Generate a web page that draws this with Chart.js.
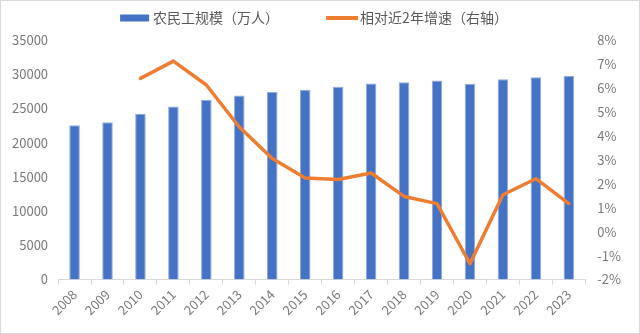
<!DOCTYPE html>
<html>
<head>
<meta charset="utf-8">
<script src="https://cdn.jsdelivr.net/npm/chart.js@4"></script>
<style>
  html, body { margin: 0; padding: 0; background: #fff; }
  #wrap { width: 640px; height: 334px; }
</style>
</head>
<body>
<div id="wrap"><canvas id="myChart"></canvas></div>
<script>
// Migrant worker totals (10k people) and the two-year growth rate (%)

const years = ['2008', '2009', '2010', '2011', '2012', '2013', '2014', '2015',
               '2016', '2017', '2018', '2019', '2020', '2021', '2022', '2023'];

const workers = [22542, 22978, 24223, 25278, 26261, 26894, 27395, 27747,
                 28171, 28652, 28836, 29077, 28560, 29251, 29562, 29753];

const growth = [null, null, 6.40, 7.12, 6.12, 4.37, 3.05, 2.24,
                2.18, 2.45, 1.47, 1.17, -1.34, 1.54, 2.21, 1.17];

const workersLabel = '农民工规模（万人）';
const growthLabel = '相对近2年增速（右轴）';

const tickColor = '#7a7a7a';
const tickFont = { family: '"Noto Sans CJK SC", sans-serif', size: 13 };

// legend row drawn above the plot
const topLegend = {
    id: 'topLegend',
    afterDraw(chart) {
        const ctx = chart.ctx;
        ctx.save();
        ctx.font = '14px "Noto Sans CJK SC", sans-serif';
        ctx.textBaseline = 'middle';
        const items = chart.data.datasets.map(ds => {
            const line = ds.type === 'line';
            return {
                text: ds.label,
                color: line ? ds.borderColor : ds.backgroundColor,
                line: line,
                swatch: line ? 32 : 29,
                gap: line ? 2 : 4
            };
        });
        const spacing = 47;
        let total = 0;
        items.forEach((it, i) => {
            it.w = it.swatch + it.gap + ctx.measureText(it.text).width;
            total += it.w + (i ? spacing : 0);
        });
        let x = (chart.width - total) / 2 - 6;
        const y = 18;
        items.forEach(it => {
            if (it.line) {
                ctx.strokeStyle = it.color;
                ctx.lineWidth = 4;
                ctx.beginPath();
                ctx.moveTo(x, y);
                ctx.lineTo(x + it.swatch, y);
                ctx.stroke();
            } else {
                ctx.fillStyle = it.color;
                ctx.fillRect(x, y - 3.5, it.swatch, 7);
            }
            ctx.fillStyle = '#595959';
            ctx.fillText(it.text, x + it.swatch + it.gap, y);
            x += it.w + spacing;
        });
        // thin frame round the whole chart
        ctx.strokeStyle = '#d9d9d9';
        ctx.lineWidth = 1;
        ctx.strokeRect(0.5, 0.5, chart.width - 1, chart.height - 1);
        ctx.restore();
    }
};

const config = {
    type: 'bar',
    data: {
        labels: years,
        datasets: [{
            type: 'bar',
            label: workersLabel,
            data: workers,
            yAxisID: 'y',
            backgroundColor: '#4472C4',
            borderColor: '#8EA9DB',
            borderWidth: 1,
            barPercentage: 0.32,
            categoryPercentage: 1,
            order: 2
        }, {
            type: 'line',
            label: growthLabel,
            data: growth,
            yAxisID: 'y1',
            borderColor: '#ED7D31',
            backgroundColor: '#ED7D31',
            borderWidth: 3.5,
            borderCapStyle: 'round',
            borderJoinStyle: 'round',
            pointRadius: 0,
            tension: 0,
            order: 1
        }]
    },
    options: {
        responsive: true,
        maintainAspectRatio: false,
        animation: false,
        layout: {
            padding: { top: 40, left: 2, right: 7, bottom: 14 }
        },
        plugins: {
            legend: { display: false },
            tooltip: { enabled: false }
        },
        scales: {
            x: {
                offset: true,
                grid: {
                    display: true,
                    offset: true,
                    drawOnChartArea: false,
                    drawTicks: true,
                    tickLength: 5,
                    color: '#d9d9d9'
                },
                border: { display: true, color: '#d9d9d9' },
                ticks: {
                    minRotation: 45,
                    maxRotation: 45,
                    color: tickColor,
                    font: tickFont,
                    padding: 2
                }
            },
            y: {
                position: 'left',
                min: 0,
                max: 35000,
                ticks: {
                    stepSize: 5000,
                    color: tickColor,
                    font: tickFont,
                    padding: 10,
                    callback: v => String(v)
                },
                grid: { display: false, drawTicks: false },
                border: { display: false }
            },
            y1: {
                position: 'right',
                min: -2,
                max: 8,
                ticks: {
                    stepSize: 1,
                    color: tickColor,
                    font: tickFont,
                    padding: 12,
                    callback: v => v + '%'
                },
                grid: { display: false, drawTicks: false },
                border: { display: false }
            }
        }
    },
    plugins: [topLegend]
};

const ctx = document.querySelector('#myChart');
let myChart = new Chart(ctx, config);
</script>
</body>
</html>
